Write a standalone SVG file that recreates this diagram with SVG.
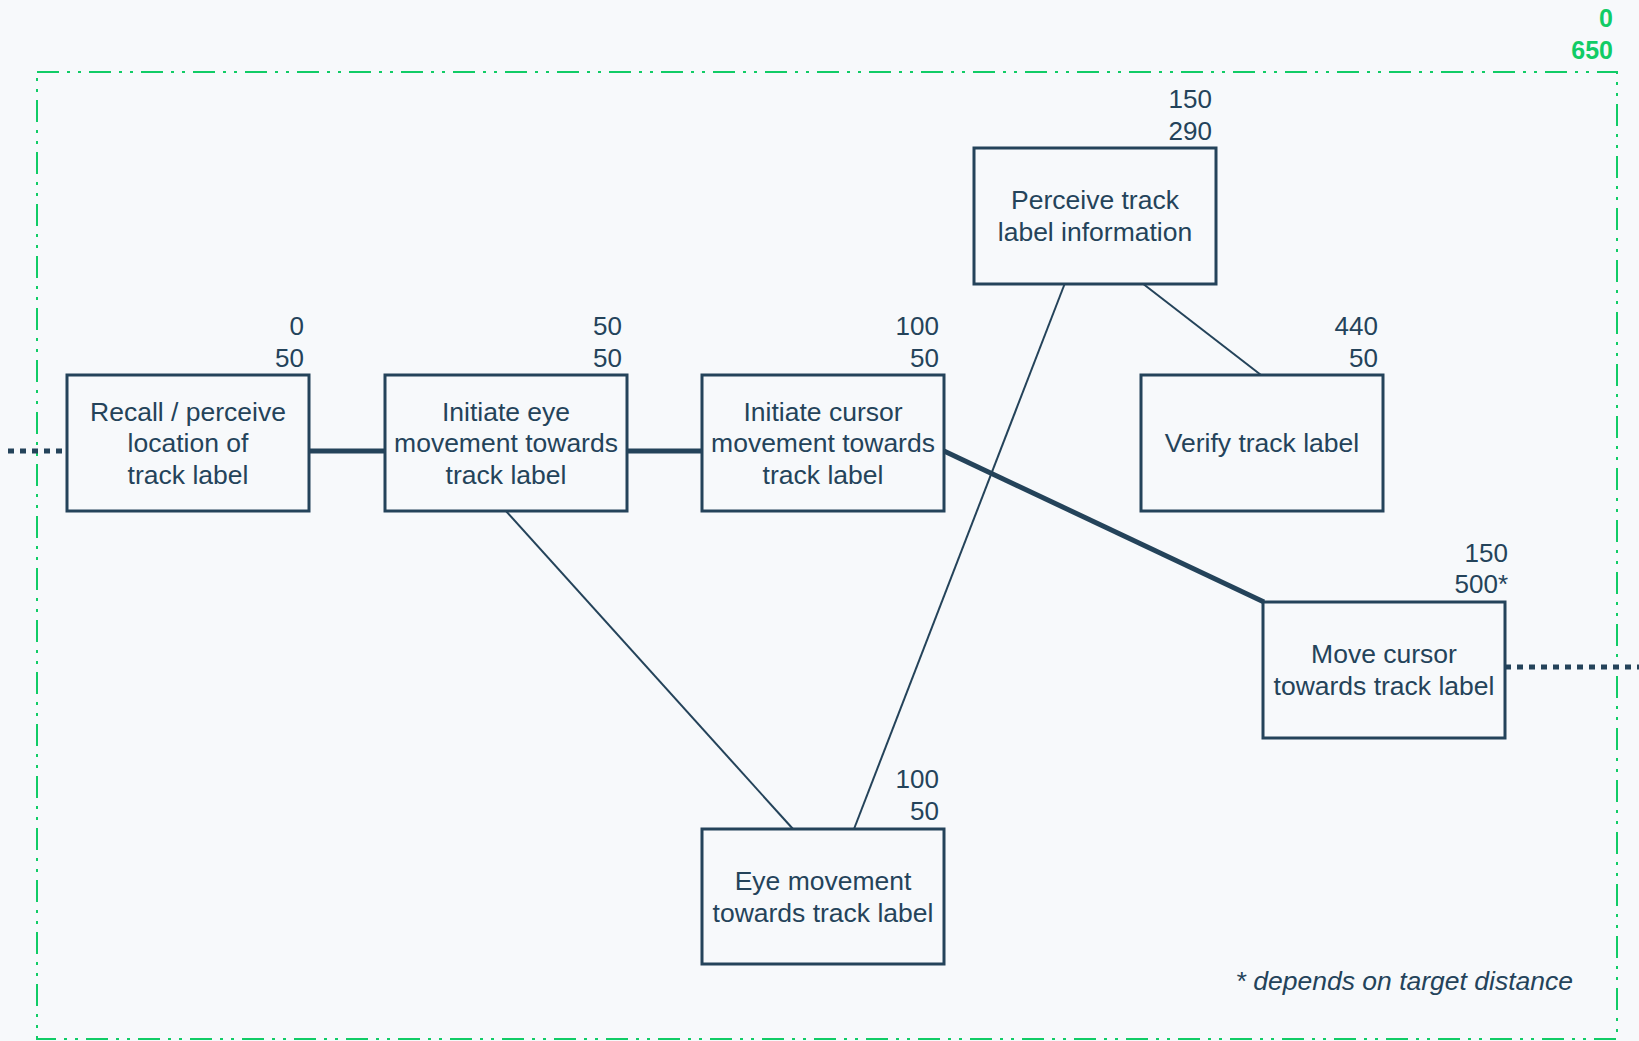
<svg xmlns="http://www.w3.org/2000/svg" width="1639" height="1041" viewBox="0 0 1639 1041">
<style>
  .bg { fill: #f7f9fb; }
  .box { fill: #f7f9fb; stroke: #24435a; stroke-width: 3; }
  .t { font-family: "Liberation Sans", Arial, sans-serif; font-size: 26.5px; fill: #24435a; text-anchor: middle; }
  .n { font-family: "Liberation Sans", Arial, sans-serif; font-size: 26px; fill: #24435a; text-anchor: end; }
  .g { font-family: "Liberation Sans", Arial, sans-serif; font-size: 25px; font-weight: bold; fill: #11cc66; text-anchor: end; }
  .note { font-family: "Liberation Sans", Arial, sans-serif; font-size: 26.5px; font-style: italic; fill: #24435a; text-anchor: end; }
  .thick { stroke: #24435a; stroke-width: 5; fill: none; }
  .thin { stroke: #24435a; stroke-width: 2; fill: none; }
  .dot { stroke: #24435a; stroke-width: 5; stroke-dasharray: 6 6; fill: none; }
  .frame { fill: none; stroke: #11cc66; stroke-width: 2; stroke-dasharray: 22 8 3 8 3 8; }
</style>
<rect class="bg" x="0" y="0" width="1639" height="1041"/>
<g id="frame">
  <rect class="frame" x="37" y="72" width="1580" height="967"/>
  <text class="g" x="1613" y="27">0</text>
  <text class="g" x="1613" y="59">650</text>
</g>
<g id="connectors">
  <line class="dot" x1="8" y1="451" x2="67" y2="451"/>
  <line class="dot" x1="1505" y1="667" x2="1639" y2="667"/>
  <line class="thick" x1="309" y1="451" x2="385" y2="451"/>
  <line class="thick" x1="627" y1="451" x2="701" y2="451"/>
  <line class="thick" x1="944" y1="451" x2="1264" y2="602"/>
  <line class="thin" x1="506" y1="511" x2="793" y2="829"/>
  <line class="thin" x1="1065" y1="283" x2="854" y2="829"/>
  <line class="thin" x1="1142" y1="283" x2="1261" y2="375"/>
</g>
<g id="recall">
  <rect class="box" x="67" y="375" width="242" height="136"/>
  <text class="t" x="188" y="421">Recall / perceive</text>
  <text class="t" x="188" y="452">location of</text>
  <text class="t" x="188" y="484">track label</text>
  <text class="n" x="304" y="335">0</text>
  <text class="n" x="304" y="367">50</text>
</g>
<g id="init-eye">
  <rect class="box" x="385" y="375" width="242" height="136"/>
  <text class="t" x="506" y="421">Initiate eye</text>
  <text class="t" x="506" y="452">movement towards</text>
  <text class="t" x="506" y="484">track label</text>
  <text class="n" x="622" y="335">50</text>
  <text class="n" x="622" y="367">50</text>
</g>
<g id="init-cursor">
  <rect class="box" x="702" y="375" width="242" height="136"/>
  <text class="t" x="823" y="421">Initiate cursor</text>
  <text class="t" x="823" y="452">movement towards</text>
  <text class="t" x="823" y="484">track label</text>
  <text class="n" x="939" y="335">100</text>
  <text class="n" x="939" y="367">50</text>
</g>
<g id="perceive">
  <rect class="box" x="974" y="148" width="242" height="136"/>
  <text class="t" x="1095" y="209">Perceive track</text>
  <text class="t" x="1095" y="241">label information</text>
  <text class="n" x="1212" y="108">150</text>
  <text class="n" x="1212" y="140">290</text>
</g>
<g id="verify">
  <rect class="box" x="1141" y="375" width="242" height="136"/>
  <text class="t" x="1262" y="452">Verify track label</text>
  <text class="n" x="1378" y="335">440</text>
  <text class="n" x="1378" y="367">50</text>
</g>
<g id="move-cursor">
  <rect class="box" x="1263" y="602" width="242" height="136"/>
  <text class="t" x="1384" y="663">Move cursor</text>
  <text class="t" x="1384" y="695">towards track label</text>
  <text class="n" x="1508" y="562">150</text>
  <text class="n" x="1508" y="593">500*</text>
</g>
<g id="eye-movement">
  <rect class="box" x="702" y="829" width="242" height="135"/>
  <text class="t" x="823" y="890">Eye movement</text>
  <text class="t" x="823" y="922">towards track label</text>
  <text class="n" x="939" y="788">100</text>
  <text class="n" x="939" y="820">50</text>
</g>
<g id="footnote">
  <text class="note" x="1573" y="990">* depends on target distance</text>
</g>
</svg>
